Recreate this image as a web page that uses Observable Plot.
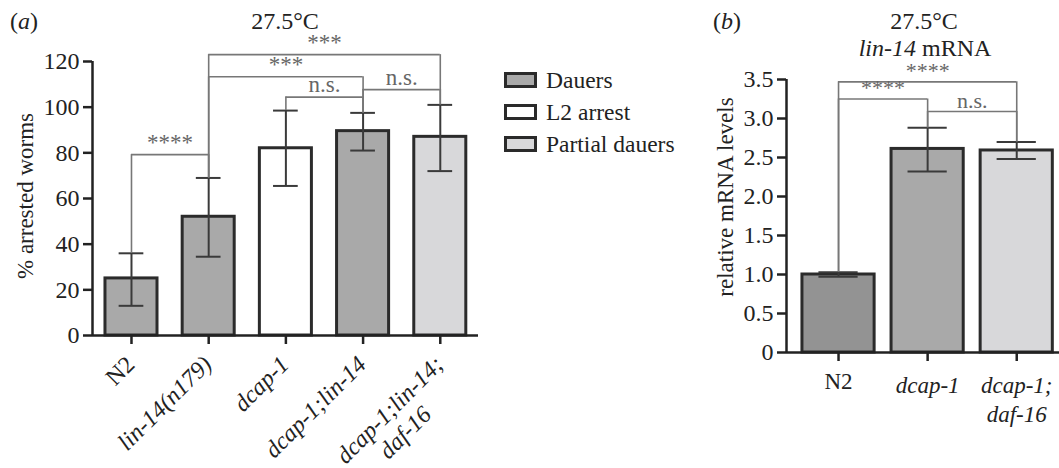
<!DOCTYPE html>
<html><head><meta charset="utf-8">
<script src="https://cdn.jsdelivr.net/npm/d3@7"></script>
<script src="https://cdn.jsdelivr.net/npm/@observablehq/plot@0.6"></script>
<style>
html,body{margin:0;padding:0;background:#fff;}
#wrap{position:relative;width:1059px;height:468px;overflow:hidden;font-family:"Liberation Serif","Tinos","Times New Roman","DejaVu Serif",serif;color:#222;}
.abs{position:absolute;white-space:nowrap;line-height:1;font-size:24px;}
.ctr{transform:translateX(-50%);}
.rot{transform:translate(-50%,-50%) rotate(-90deg);font-size:23px;}
#pa{position:absolute;left:0;top:0;}
#pb{position:absolute;left:700px;top:0;}
g[aria-label$="axis tick"], g[aria-label$="axis tick"] path, g[aria-label="x-axis"] .tick line, g[aria-label="y-axis"] .tick line {stroke-width:2.5px;}
.leg{position:absolute;left:504px;display:flex;align-items:center;font-size:23.5px;line-height:22px;}
.sw{width:27px;height:10px;border:3px solid #2a2a2a;margin-right:9px;}
</style></head><body>
<div id="wrap">
  <div id="pa"></div>
  <div id="pb"></div>
  <div class="abs" style="left:10px;top:9px;">(<i>a</i>)</div>
  <div class="abs ctr" style="left:285px;top:9px;">27.5°C</div>
  <div class="abs" style="left:713px;top:9px;">(<i>b</i>)</div>
  <div class="abs ctr" style="left:924px;top:9px;">27.5°C</div>
  <div class="abs ctr" style="left:925px;top:36px;"><i>lin-14</i> mRNA</div>
  <div class="abs rot" style="left:25px;top:196px;">% arrested worms</div>
  <div class="abs rot" style="left:725px;top:197px;">relative mRNA levels</div>
  <div id="legend"></div>
</div>
<script>
// ---------- Panel (a) data ----------
const categoriesA = ["N2", "lin-14(n179)", "dcap-1", "dcap-1;lin-14", "dcap-1;lin-14;\ndaf-16"];
const meanA = [25, 52, 82, 89.5, 87];
const lowA = [13, 34.5, 65.5, 81, 72];
const highA = [36, 69, 98.5, 97.5, 101];
const phenotypeA = ["Dauers", "Dauers", "L2 arrest", "Dauers", "Partial dauers"];
const yTicksA = [0, 20, 40, 60, 80, 100, 120];
// significance brackets: from index, to index, bracket height, label
const bracketFromA = [0, 1, 1, 2, 3];
const bracketToA = [1, 3, 4, 3, 4];
const bracketYA = [79.2, 113.3, 123, 104.4, 107.7];
const bracketLabelA = ["****", "***", "***", "n.s.", "n.s."];

// ---------- Panel (b) data ----------
const categoriesB = ["N2", "dcap-1", "dcap-1;\ndaf-16"];
const meanB = [1.0, 2.61, 2.59];
const lowB = [0.97, 2.32, 2.48];
const highB = [1.03, 2.88, 2.70];
const yTicksB = [0, 0.5, 1.0, 1.5, 2.0, 2.5, 3.0, 3.5];
const bracketFromB = [0, 0, 1];
const bracketToB = [2, 1, 2];
const bracketYB = [3.47, 3.25, 3.09];
const bracketLabelB = ["****", "****", "n.s."];

// ---------- legend ----------
const legendNames = ["Dauers", "L2 arrest", "Partial dauers"];

// ---------- styles ----------
const FONT = '"Liberation Serif","Tinos","Times New Roman","DejaVu Serif",serif';
const phenColors = ["#a9a9a9", "#ffffff", "#d8d8da"];
const barColorsB = ["#939393", "#a9a9a9", "#d8d8da"];
const BAR_STROKE = "#2b2b2b";
const ERR = "#3a3a3a";
const BR = "#777777";
const SIG = "#666666";

function lines(c) { const p = c.split("\n"); return {l1: p[0], l2: p[1] || ""}; }

// ---------- build panel (a) ----------
const dataA = categoriesA.map((c, i) => ({i, ...lines(c), mean: meanA[i], lo: lowA[i], hi: highA[i], ph: phenotypeA[i]}));
const brA = bracketFromA.map((a, k) => ({a, b: bracketToA[k], y: bracketYA[k], label: bracketLabelA[k], mid: (a + bracketToA[k]) / 2}));
const legsA = brA.flatMap(d => [{x: d.a, y1: highA[d.a], y2: d.y}, {x: d.b, y1: highA[d.b], y2: d.y}]);
const xMinA = -0.505, xMaxA = 4.495;
const hwA = 0.337, capA = 0.16;

const plotA = Plot.plot({
  width: 490, height: 468,
  marginLeft: 92, marginRight: 12, marginTop: 61, marginBottom: 133,
  style: {fontFamily: FONT, fontSize: "24px", color: "#222", background: "transparent", overflow: "visible"},
  x: {type: "linear", domain: [xMinA, xMaxA], ticks: dataA.map(d => d.i), tickSize: 9, tickFormat: () => "", label: null},
  y: {domain: [0, 120], ticks: yTicksA, tickSize: 9, tickPadding: 4, label: null},
  color: {domain: legendNames, range: phenColors},
  marks: [
    Plot.rectY(dataA, {x1: d => d.i - hwA, x2: d => d.i + hwA, y1: 0, y2: "mean", fill: "ph", stroke: BAR_STROKE, strokeWidth: 3}),
    Plot.ruleX(dataA, {x: "i", y1: "lo", y2: "hi", stroke: ERR, strokeWidth: 2}),
    Plot.ruleY(dataA, {y: "hi", x1: d => d.i - capA, x2: d => d.i + capA, stroke: ERR, strokeWidth: 2}),
    Plot.ruleY(dataA, {y: "lo", x1: d => d.i - capA, x2: d => d.i + capA, stroke: ERR, strokeWidth: 2}),
    Plot.ruleX(legsA, {x: "x", y1: "y1", y2: "y2", stroke: BR, strokeWidth: 1.6}),
    Plot.ruleY(brA, {y: "y", x1: "a", x2: "b", stroke: BR, strokeWidth: 1.6}),
    Plot.text(brA, {x: "mid", y: "y", text: "label", dy: -12, fill: SIG, fontSize: 23}),
    Plot.ruleX([xMinA], {stroke: "#222", strokeWidth: 2.5}),
    Plot.ruleY([0], {stroke: "#222", strokeWidth: 2.5}),
    Plot.text(dataA.filter(d => d.i === 0), {x: "i", y: 0, text: "l1", rotate: -45, textAnchor: "end", dx: -1, dy: 25, fill: "#222"}),
    Plot.text(dataA.filter(d => d.i > 0), {x: "i", y: 0, text: "l1", rotate: -45, textAnchor: "end", dx: -1, dy: 25, fontStyle: "italic", fill: "#222"}),
    Plot.text(dataA.filter(d => d.l2), {x: "i", y: 0, text: "l2", rotate: -45, textAnchor: "end", dx: -13, dy: 75, fontStyle: "italic", fill: "#222"})
  ]
});
document.getElementById("pa").appendChild(plotA);

// ---------- build panel (b) ----------
const dataB = categoriesB.map((c, i) => ({i, ...lines(c), mean: meanB[i], lo: lowB[i], hi: highB[i], col: barColorsB[i]}));
const brB = bracketFromB.map((a, k) => ({a, b: bracketToB[k], y: bracketYB[k], label: bracketLabelB[k], mid: (a + bracketToB[k]) / 2}));
const legsB = brB.flatMap(d => [{x: d.a, y1: highB[d.a], y2: d.y}, {x: d.b, y1: highB[d.b], y2: d.y}]);
const xMinB = -0.584, xMaxB = 2.48;
const hwB = 0.405, capB = 0.22;

const plotB = Plot.plot({
  width: 359, height: 468,
  marginLeft: 86, marginRight: 0, marginTop: 79, marginBottom: 116,
  style: {fontFamily: FONT, fontSize: "24px", color: "#222", background: "transparent", overflow: "visible"},
  x: {type: "linear", domain: [xMinB, xMaxB], ticks: dataB.map(d => d.i), tickSize: 9, tickFormat: () => "", label: null},
  y: {domain: [0, 3.5], ticks: yTicksB, tickSize: 9, tickPadding: 4, tickFormat: d => d === 0 ? "0" : d.toFixed(1), label: null},
  color: {type: "identity"},
  marks: [
    Plot.rectY(dataB, {x1: d => d.i - hwB, x2: d => d.i + hwB, y1: 0, y2: "mean", fill: "col", stroke: BAR_STROKE, strokeWidth: 3}),
    Plot.ruleX(dataB, {x: "i", y1: "lo", y2: "hi", stroke: ERR, strokeWidth: 2}),
    Plot.ruleY(dataB, {y: "hi", x1: d => d.i - capB, x2: d => d.i + capB, stroke: ERR, strokeWidth: 2}),
    Plot.ruleY(dataB, {y: "lo", x1: d => d.i - capB, x2: d => d.i + capB, stroke: ERR, strokeWidth: 2}),
    Plot.ruleX(legsB, {x: "x", y1: "y1", y2: "y2", stroke: BR, strokeWidth: 1.6}),
    Plot.ruleY(brB, {y: "y", x1: "a", x2: "b", stroke: BR, strokeWidth: 1.6}),
    Plot.text(brB, {x: "mid", y: "y", text: "label", dy: -11, fill: SIG, fontSize: 22}),
    Plot.ruleX([xMinB], {stroke: "#222", strokeWidth: 2.5}),
    Plot.ruleY([0], {stroke: "#222", strokeWidth: 2.5}),
    Plot.text(dataB.filter(d => d.i === 0), {x: "i", y: 0, text: "l1", lineAnchor: "top", dy: 20, fontSize: 23, fill: "#222"}),
    Plot.text(dataB.filter(d => d.i > 0), {x: "i", y: 0, text: d => d.l2 ? d.l1 + "\n" + d.l2 : d.l1, lineAnchor: "top", lineHeight: 1.25, dy: 20, fontSize: 23, fontStyle: "italic", fill: "#222"})
  ]
});
document.getElementById("pb").appendChild(plotB);

// ---------- legend ----------
const leg = document.getElementById("legend");
const legTops = [69, 101, 133];
legendNames.forEach((name, k) => {
  const row = document.createElement("div");
  row.className = "leg";
  row.style.top = legTops[k] + "px";
  const sw = document.createElement("div");
  sw.className = "sw";
  sw.style.background = phenColors[k];
  const t = document.createElement("span");
  t.textContent = name;
  row.appendChild(sw); row.appendChild(t);
  leg.appendChild(row);
});
</script>
</body></html>
